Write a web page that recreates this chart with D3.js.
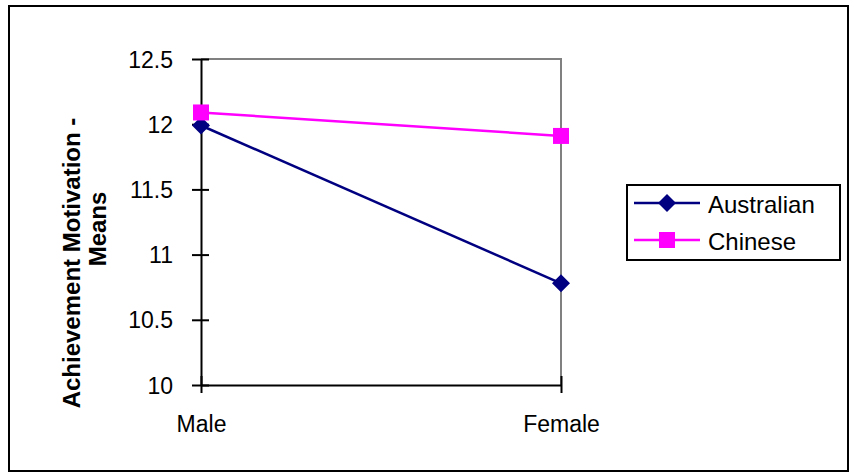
<!DOCTYPE html>
<html>
<head>
<meta charset="utf-8">
<script src="https://cdn.jsdelivr.net/npm/d3@7"></script>
<style>
  html, body { margin: 0; padding: 0; background: #fff; }
  svg { display: block; font-family: "Liberation Sans", Arial, sans-serif; }
</style>
</head>
<body>
<svg id="chart" width="851" height="474"></svg>
<script>
const categories = ["Male", "Female"];
const seriesNames = ["Australian", "Chinese"];
const australian = [11.99, 10.78];
const chinese = [12.09, 11.91];
const yTicks = [10, 10.5, 11, 11.5, 12, 12.5];
const yTickLabels = ["10", "10.5", "11", "11.5", "12", "12.5"];
const colors = ["#000080", "#FF00FF"];

const FONT = "Liberation Sans, Arial, sans-serif";
const svg = d3.select("#chart");

// outer frame
svg.append("rect").attr("x", 9).attr("y", 6).attr("width", 839).attr("height", 465)
  .attr("fill", "#fff").attr("stroke", "#000").attr("stroke-width", 2);

const plot = {left: 201, right: 561, top: 59, bottom: 385};

const x = d3.scalePoint().domain(categories).range([plot.left, plot.right]).padding(0);
const y = d3.scaleLinear().domain([10, 12.5]).range([plot.bottom, plot.top]);

// gray plot frame (top and right)
svg.append("path")
  .attr("d", `M${plot.left},${plot.top}H${plot.right}V${plot.bottom}`)
  .attr("fill", "none").attr("stroke", "#808080").attr("stroke-width", 2);

// y axis
const yAxis = d3.axisLeft(y).tickValues(yTicks)
  .tickFormat((d, i) => yTickLabels[i]).tickSizeInner(8).tickSizeOuter(0);
const yg = svg.append("g").attr("transform", `translate(${plot.left},0)`).call(yAxis);
yg.select(".domain").attr("stroke", "#000").attr("stroke-width", 2);
yg.selectAll(".tick line").attr("x2", -9).attr("x1", 8).attr("stroke", "#000").attr("stroke-width", 2);
yg.selectAll(".tick text").attr("font-size", 23).attr("fill", "#000")
  .attr("font-family", FONT).attr("x", -28).attr("dy", "0.35em");

// x axis
const xAxis = d3.axisBottom(x).tickSizeInner(8).tickSizeOuter(0);
const xg = svg.append("g").attr("transform", `translate(0,${plot.bottom})`).call(xAxis);
xg.select(".domain").attr("stroke", "#000").attr("stroke-width", 2);
xg.selectAll(".tick line").attr("y1", -9).attr("y2", 8).attr("stroke", "#000").attr("stroke-width", 2);
xg.selectAll(".tick text").attr("font-size", 23).attr("fill", "#000")
  .attr("font-family", FONT).attr("y", 47).attr("dy", 0);

// y title (two lines)
svg.append("text")
  .attr("transform", `translate(80,263) rotate(-90)`)
  .attr("text-anchor", "middle").attr("font-weight", "bold").attr("font-size", 24)
  .attr("font-family", FONT).attr("fill", "#000").text("Achievement Motivation -");
svg.append("text")
  .attr("transform", `translate(106,229) rotate(-90)`)
  .attr("text-anchor", "middle").attr("font-weight", "bold").attr("font-size", 24)
  .attr("font-family", FONT).attr("fill", "#000").text("Means");

// markers
const diamond = d3.symbol().type({draw(ctx) {
  const r = 9; ctx.moveTo(0, -r); ctx.lineTo(r, 0); ctx.lineTo(0, r); ctx.lineTo(-r, 0); ctx.closePath();
}});
const square = d3.symbol().type({draw(ctx) {
  const h = 8; ctx.rect(-h, -h, 2 * h, 2 * h);
}});
const markers = [diamond, square];

// series
const series = [australian, chinese];
const line = d3.line().x((d, i) => x(categories[i])).y(d => y(d));

series.forEach((vals, s) => {
  svg.append("path").datum(vals).attr("d", line)
    .attr("fill", "none").attr("stroke", colors[s]).attr("stroke-width", 2.5);
});
series.forEach((vals, s) => {
  svg.selectAll(null).data(vals).enter().append("path")
    .attr("transform", (d, i) => `translate(${x(categories[i])},${y(d)})`)
    .attr("d", markers[s]())
    .attr("fill", colors[s]);
});

// legend
const lg = svg.append("g");
lg.append("rect").attr("x", 627).attr("y", 185).attr("width", 213).attr("height", 75)
  .attr("fill", "#fff").attr("stroke", "#000").attr("stroke-width", 2);
seriesNames.forEach((name, s) => {
  const ly = 203 + s * 37;
  lg.append("line").attr("x1", 634).attr("x2", 700).attr("y1", ly).attr("y2", ly)
    .attr("stroke", colors[s]).attr("stroke-width", 2.5);
  lg.append("path").attr("transform", `translate(667,${ly})`)
    .attr("d", markers[s]()).attr("fill", colors[s]);
  lg.append("text").attr("x", 708).attr("y", ly + 10).attr("font-size", 24)
    .attr("font-family", FONT).attr("fill", "#000").text(name);
});
</script>
</body>
</html>
